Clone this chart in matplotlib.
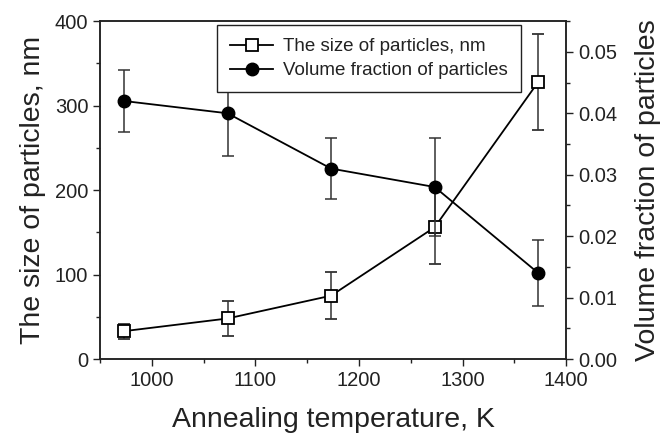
import numpy as np
import matplotlib.pyplot as plt
from matplotlib.ticker import MultipleLocator
from matplotlib.lines import Line2D

plt.rcParams['font.family'] = ['Liberation Sans', 'DejaVu Sans']

# --- dados ---
temperatura = [973, 1073, 1173, 1273, 1373]
tamanho = [33, 48, 75, 156, 328]          # nm
tamanho_err = [9, 21, 28, 44, 57]
fracao = [0.042, 0.040, 0.031, 0.028, 0.014]
fracao_err = [0.005, 0.007, 0.005, 0.008, 0.0053]

cor_txt = '#222222'
cor_err = '#333333'

fig = plt.figure(figsize=(6.63, 4.4), dpi=100)
ax = fig.add_axes([0.151, 0.184, 0.703, 0.768])
ax2 = ax.twinx()

# Tamanho das partículas (quadrados)
ax.errorbar(temperatura, tamanho, yerr=tamanho_err, color='black', lw=1.3,
            marker='s', ms=8, mfc='white', mec='black', mew=1.3,
            ecolor=cor_err, elinewidth=1.1, capsize=4, capthick=1.1)

# Fração volumétrica (círculos)
ax2.errorbar(temperatura, fracao, yerr=fracao_err, color='black', lw=1.3,
             marker='o', ms=9, mfc='black', mec='black',
             ecolor=cor_err, elinewidth=1.1, capsize=4, capthick=1.1)

ax.set_xlim(950, 1400)
ax.set_ylim(0, 400)
ax2.set_ylim(0, 0.055)

ax.xaxis.set_major_locator(MultipleLocator(100))
ax.xaxis.set_minor_locator(MultipleLocator(50))
ax.yaxis.set_major_locator(MultipleLocator(100))
ax.yaxis.set_minor_locator(MultipleLocator(50))
ax2.yaxis.set_major_locator(MultipleLocator(0.01))
ax2.yaxis.set_minor_locator(MultipleLocator(0.005))
ax2.yaxis.set_major_formatter(plt.FormatStrFormatter('%.2f'))

for a in (ax, ax2):
    a.tick_params(which='both', direction='out', top=False, labelsize=14.5,
                  colors=cor_txt, width=1)
    a.tick_params(which='major', length=5)
    a.tick_params(which='minor', length=3)
    for s in a.spines.values():
        s.set_linewidth(1.1)
        s.set_color('#222222')

ax.set_xlabel('Annealing temperature, K', fontsize=20.5, color=cor_txt, labelpad=12)
ax.set_ylabel('The size of particles, nm', fontsize=20.5, color=cor_txt, labelpad=6)
ax2.set_ylabel('Volume fraction of particles', fontsize=20.5, color=cor_txt, labelpad=13)

# legenda sem barras de erro
handles = [
    Line2D([], [], color='black', lw=1.3, marker='s', ms=8, mfc='white',
           mec='black', mew=1.3),
    Line2D([], [], color='black', lw=1.3, marker='o', ms=9, mfc='black',
           mec='black'),
]
labels = ['The size of particles, nm', 'Volume fraction of particles']
leg = ax2.legend(handles, labels, loc='upper left', bbox_to_anchor=(0.251, 0.988),
                 borderaxespad=0, fontsize=13.5, frameon=True, fancybox=False,
                 handlelength=2.3, handletextpad=0.5, borderpad=0.7,
                 labelspacing=0.35, framealpha=1)
leg.get_frame().set_edgecolor('#222222')
leg.get_frame().set_linewidth(1.0)
for t in leg.get_texts():
    t.set_color(cor_txt)

fig.savefig('out.png', dpi=100)
